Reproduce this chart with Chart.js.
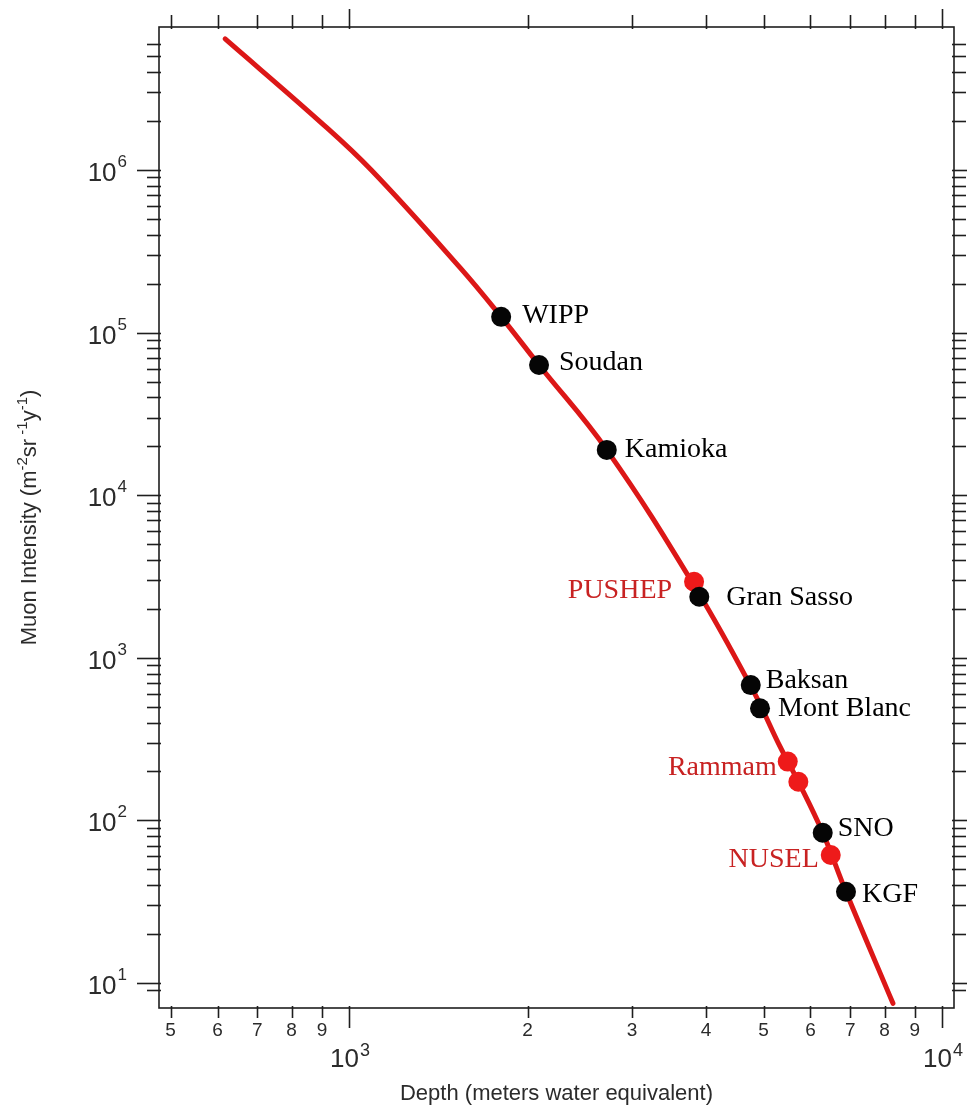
<!DOCTYPE html>
<html>
<head>
<meta charset="utf-8">
<title>Muon intensity vs depth</title>
<script src="https://cdn.jsdelivr.net/npm/chart.js@4.4.1/dist/chart.umd.min.js"></script>
<style>
  html, body { margin: 0; padding: 0; background: #fff; }
  canvas { display: block; }
</style>
</head>
<body>
<canvas id="muon" width="967" height="1105"></canvas>
<script>
// depth-intensity relation (red curve)
const curveDepth = [618, 894, 1090, 1540, 1805, 2091, 2720, 3850, 4800, 5332, 5724, 6292, 6887, 8265];
const curveIntensity = [6.4e6, 1.98e6, 1.0e6, 2.5e5, 1.25e5, 6.32e4, 1.9e4, 2650, 630, 284, 173, 84, 36.4, 7.5];

// running underground labs
const labNames = ['WIPP', 'Soudan', 'Kamioka', 'Gran Sasso', 'Baksan', 'Mont Blanc', 'SNO', 'KGF'];
const labDepth = [1805, 2091, 2720, 3896, 4758, 4932, 6292, 6887];
const labIntensity = [1.25e5, 6.32e4, 1.9e4, 2376, 680, 489, 84, 36.4];

// proposed sites
const proposedNames = ['PUSHEP', 'Rammam', '', 'NUSEL'];
const proposedDepth = [3818, 5493, 5724, 6491];
const proposedIntensity = [2938, 230, 173, 61.3];

// axis ticks
const depthTicks = [500, 600, 700, 800, 900, 1000, 2000, 3000, 4000, 5000, 6000, 7000, 8000, 9000, 10000];
const depthTickLabels = ['5', '6', '7', '8', '9', '', '2', '3', '4', '5', '6', '7', '8', '9', ''];
const depthDecades = [3, 4];
const intensityTicks = [
  9, 10, 20, 30, 40, 50, 60, 70, 80, 90,
  100, 200, 300, 400, 500, 600, 700, 800, 900,
  1e3, 2e3, 3e3, 4e3, 5e3, 6e3, 7e3, 8e3, 9e3,
  1e4, 2e4, 3e4, 4e4, 5e4, 6e4, 7e4, 8e4, 9e4,
  1e5, 2e5, 3e5, 4e5, 5e5, 6e5, 7e5, 8e5, 9e5,
  1e6, 2e6, 3e6, 4e6, 5e6, 6e6
];
const intensityDecades = [1, 2, 3, 4, 5, 6];

const SANS = '"Liberation Sans", Arial, Helvetica, sans-serif';
const SERIF = '"Liberation Serif", "Times New Roman", serif';

// label offsets from the marker centre: [dx, dy, align]
const labelPlacement = {
  'WIPP': [21, 6, 'left'],
  'Soudan': [20, 5, 'left'],
  'Kamioka': [18, 7, 'left'],
  'Gran Sasso': [27, 8, 'left'],
  'Baksan': [15, 3, 'left'],
  'Mont Blanc': [18, 8, 'left'],
  'SNO': [15, 3, 'left'],
  'KGF': [16, 10, 'left'],
  'PUSHEP': [-22, 16, 'right'],
  'Rammam': [-11, 13, 'right'],
  'NUSEL': [-12, 12, 'right']
};

const isDecade = v => Math.abs(Math.log10(v) - Math.round(Math.log10(v))) < 1e-9;

function line(ctx, x1, y1, x2, y2) {
  ctx.beginPath();
  ctx.moveTo(x1, y1);
  ctx.lineTo(x2, y2);
  ctx.stroke();
}

// "10" with a raised exponent
function drawPower(ctx, exp, x, y, baseSize, expSize, rise, align) {
  ctx.font = baseSize + 'px ' + SANS;
  const wBase = ctx.measureText('10').width;
  ctx.font = expSize + 'px ' + SANS;
  const wExp = ctx.measureText(String(exp)).width;
  const total = wBase + 1 + wExp;
  const left = align === 'right' ? x - total : align === 'center' ? x - total / 2 : x;
  ctx.textAlign = 'left';
  ctx.textBaseline = 'alphabetic';
  ctx.font = baseSize + 'px ' + SANS;
  ctx.fillText('10', left, y);
  ctx.font = expSize + 'px ' + SANS;
  ctx.fillText(String(exp), left + wBase + 1, y - rise);
}

// frame, ticks on all four sides, tick labels and axis titles
const logFrame = {
  id: 'logFrame',
  beforeDatasetsDraw(chart) {
    const {ctx, chartArea: a, scales: {x, y}} = chart;
    ctx.save();
    ctx.strokeStyle = '#1e1e1e';
    ctx.lineWidth = 1.6;
    ctx.strokeRect(a.left, a.top, a.right - a.left, a.bottom - a.top);

    depthTicks.forEach(v => {
      const px = Math.round(x.getPixelForValue(v)) + 0.5;
      const major = isDecade(v);
      line(ctx, px, a.bottom - 2, px, a.bottom + (major ? 20 : 10));
      line(ctx, px, a.top + 2, px, a.top - (major ? 18 : 12));
    });
    intensityTicks.forEach(v => {
      const py = Math.round(y.getPixelForValue(v)) + 0.5;
      const major = isDecade(v);
      line(ctx, a.left + 2, py, a.left - (major ? 22 : 12), py);
      line(ctx, a.right - 2, py, a.right + (major ? 22 : 12), py);
    });

    ctx.fillStyle = '#2b2b2b';
    ctx.font = '19px ' + SANS;
    ctx.textAlign = 'center';
    ctx.textBaseline = 'alphabetic';
    depthTicks.forEach((v, i) => {
      if (!depthTickLabels[i]) return;
      ctx.fillText(depthTickLabels[i], x.getPixelForValue(v), a.bottom + 28);
    });
    depthDecades.forEach(e => {
      drawPower(ctx, e, x.getPixelForValue(Math.pow(10, e)) + 1, a.bottom + 59, 26, 18, 11, 'center');
    });
    intensityDecades.forEach(e => {
      drawPower(ctx, e, a.left - 32, y.getPixelForValue(Math.pow(10, e)) + 11, 26, 17, 14, 'right');
    });

    // x title
    ctx.font = '22px ' + SANS;
    ctx.textAlign = 'center';
    ctx.fillText('Depth (meters water equivalent)', (a.left + a.right) / 2, 1100);

    // y title, rotated, with superscripted units
    const parts = [['Muon Intensity (m', 0], ['-2', 1], ['sr', 0], [' -1', 1], ['y', 0], ['-1', 1], [')', 0]];
    const fontOf = p => (p[1] ? '15px ' : '22px ') + SANS;
    let width = 0;
    parts.forEach(p => { ctx.font = fontOf(p); width += ctx.measureText(p[0]).width; });
    ctx.translate(36, (a.top + a.bottom) / 2);
    ctx.rotate(-Math.PI / 2);
    ctx.textAlign = 'left';
    let cx = -width / 2;
    parts.forEach(p => {
      ctx.font = fontOf(p);
      ctx.fillText(p[0], cx, p[1] ? -9 : 0);
      cx += ctx.measureText(p[0]).width;
    });
    ctx.restore();
  },
  afterDatasetsDraw(chart) {
    const {ctx} = chart;
    ctx.save();
    ctx.font = '28px ' + SERIF;
    ctx.textBaseline = 'alphabetic';
    chart.data.datasets.forEach((ds, di) => {
      if (!ds.names) return;
      const meta = chart.getDatasetMeta(di);
      ctx.fillStyle = ds.labelColor;
      ds.names.forEach((name, i) => {
        if (!name) return;
        const [dx, dy, align] = labelPlacement[name];
        const pt = meta.data[i];
        ctx.textAlign = align;
        ctx.fillText(name, pt.x + dx, pt.y + dy);
      });
    });
    ctx.restore();
  }
};

const ctx = document.getElementById('muon');

const muonChart = new Chart(ctx, {
  type: 'scatter',
  data: {
    datasets: [{
      label: 'Underground labs',
      names: labNames,
      labelColor: '#000',
      data: labDepth.map((d, i) => ({x: d, y: labIntensity[i]})),
      pointRadius: 10,
      pointBackgroundColor: '#050505',
      pointBorderWidth: 0,
      order: 0
    }, {
      label: 'Proposed sites',
      names: proposedNames,
      labelColor: '#c82222',
      data: proposedDepth.map((d, i) => ({x: d, y: proposedIntensity[i]})),
      pointRadius: 10,
      pointBackgroundColor: '#ee1a1a',
      pointBorderWidth: 0,
      order: 1
    }, {
      label: 'Depth-intensity relation',
      type: 'line',
      data: curveDepth.map((d, i) => ({x: d, y: curveIntensity[i]})),
      borderColor: '#dc1717',
      borderWidth: 5,
      borderCapStyle: 'round',
      borderJoinStyle: 'round',
      pointRadius: 0,
      tension: 0.4,
      order: 2
    }]
  },
  options: {
    responsive: false,
    animation: false,
    devicePixelRatio: 1,
    layout: {
      padding: {top: 27, right: 13, left: 0, bottom: 0}
    },
    plugins: {
      legend: {display: false},
      tooltip: {enabled: false}
    },
    scales: {
      x: {
        type: 'logarithmic',
        position: 'bottom',
        min: 478,
        max: 10476,
        grid: {display: false},
        border: {display: false},
        ticks: {display: false},
        afterFit: scale => { scale.height = 97; }
      },
      y: {
        type: 'logarithmic',
        position: 'left',
        min: 7.02,
        max: 7.58e6,
        grid: {display: false},
        border: {display: false},
        ticks: {display: false},
        afterFit: scale => { scale.width = 159; }
      }
    }
  },
  plugins: [logFrame]
});
</script>
</body>
</html>
